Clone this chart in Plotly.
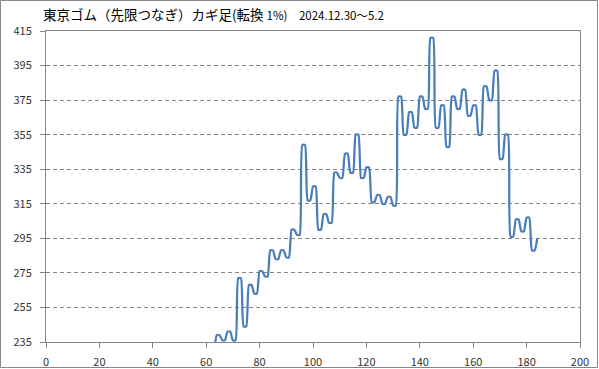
import plotly.graph_objects as go

# Kagi series (index, price)
idx = list(range(63, 185))
price = [230,
         239, 239, 236, 236, 241, 241, 236, 236, 272, 272, 244, 244, 268, 268, 263, 263,
         276, 276, 273, 273, 288, 288, 283, 283, 288, 288, 284, 284, 300, 300, 297, 297,
         349, 349, 317, 317, 325, 325, 300, 300, 309, 309, 304, 304, 333, 333, 330, 330,
         344, 344, 333, 333, 355, 355, 330, 330, 336, 336, 316, 316, 320, 320, 315, 315,
         319, 319, 314, 314, 377, 377, 355, 355, 368, 368, 359, 359, 377, 377, 370, 370,
         411, 411, 359, 359, 372, 372, 348, 348, 377, 377, 370, 370, 381, 381, 366, 366,
         372, 372, 355, 355, 383, 383, 375, 375, 392, 392, 341, 341, 355, 355, 296, 296,
         306, 306, 299, 299, 307, 307, 288, 288,
         295]

x_ticks = [0, 20, 40, 60, 80, 100, 120, 140, 160, 180, 200]
y_ticks = [235, 255, 275, 295, 315, 335, 355, 375, 395, 415]

title_main = "東京ゴム（先限つなぎ）カギ足(転換"
title_sub = "1%)　2024.12.30～5.2"

W, H = 599, 369
ML, MR, MT, MB = 46, 19, 31, 27

fig = go.Figure()
fig.add_trace(go.Scatter(
    x=idx, y=price, mode="lines",
    line=dict(color="#4A7EBB", width=2.25, shape="spline", smoothing=0.55),
    hoverinfo="skip", showlegend=False,
))

axis_font = dict(family="Noto Sans CJK JP, Liberation Sans, sans-serif", size=11, color="#333333")

fig.update_layout(
    width=W, height=H,
    margin=dict(l=ML, r=MR, t=MT, b=MB),
    paper_bgcolor="white", plot_bgcolor="white",
    title=dict(
        text=f"{title_main} <span style='font-size:11.5px'>{title_sub}</span>",
        x=43 / W, xanchor="left", y=1 - 15 / H, yanchor="middle",
        font=dict(family="Noto Sans CJK JP, sans-serif", size=13.5, color="#000000"),
        automargin=False,
    ),
    xaxis=dict(
        range=[0, 200], tickvals=x_ticks, ticktext=[str(v) for v in x_ticks],
        showgrid=False, zeroline=False, automargin=False,
        showline=True, linecolor="#868686", linewidth=1, mirror=True,
        ticks="outside", ticklen=5, tickcolor="#868686",
        tickfont=axis_font, ticklabelstandoff=5,
    ),
    yaxis=dict(
        range=[235, 415], tickvals=y_ticks, ticktext=[str(v) for v in y_ticks],
        showgrid=True, gridcolor="#868686", gridwidth=1, griddash="4px,3px",
        zeroline=False, automargin=False,
        showline=True, linecolor="#868686", linewidth=1, mirror=True,
        ticks="outside", ticklen=5, tickcolor="#868686",
        tickfont=axis_font, ticklabelstandoff=6,
    ),
)

# outer chart frame
pw, ph = W - ML - MR, H - MT - MB
fig.add_shape(
    type="rect", xref="paper", yref="paper",
    x0=-(ML - 0.5) / pw, x1=1 + (MR - 1.5) / pw,
    y0=-(MB - 1.5) / ph, y1=1 + (MT - 0.5) / ph,
    line=dict(color="#868686", width=1), fillcolor="rgba(0,0,0,0)", layer="above",
)

fig.write_html(
    "out.html",
    config={"displayModeBar": False},
    post_script="document.body.style.margin='0';document.body.style.overflow='hidden';",
)
